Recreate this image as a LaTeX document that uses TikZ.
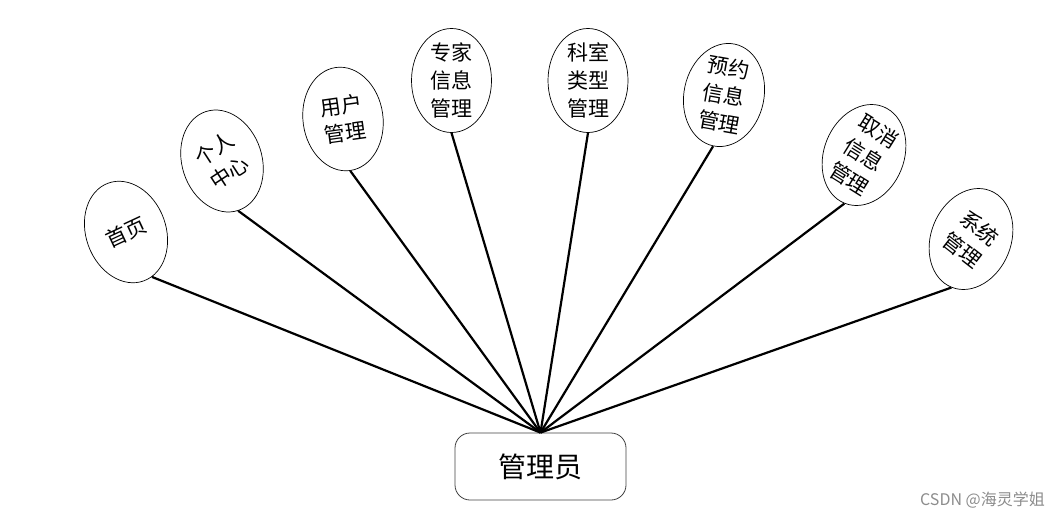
\documentclass[tikz,border=0pt]{standalone}
\usepackage{fontspec}
\setmainfont{Noto Sans CJK SC}
\newfontfamily\cjk{Noto Sans CJK SC}
\usetikzlibrary{shapes.geometric}
\tikzset{
  bub/.style={ellipse, draw=black, line width=0.7pt, minimum width=80pt, minimum height=104pt, inner sep=0pt},
  btxt/.style={align=center, inner sep=0pt, font=\cjk\fontsize{21}{28}\selectfont},
  link/.style={line width=2.2pt, black},
  adminbox/.style={draw=black!75, line width=0.8pt, rounded corners=15pt, minimum width=171pt, minimum height=67pt, inner sep=0pt, font=\cjk\fontsize{28}{30}\selectfont},
}
\begin{document}
\begin{tikzpicture}[x=1pt,y=-1pt]
\useasboundingbox (0,0) rectangle (1059,519);
\node[adminbox] (admin) at (540.5,466.5) {管理员};

\node[bub, rotate=20] (n1) at (126,232) {};
\node[btxt, rotate=25] at (n1) {首页};

\node[bub, rotate=18] (n2) at (222,161) {};
\node[btxt, rotate=33] at (n2) {个人\\中心};

\node[bub, rotate=8] (n3) at (343,119) {};
\node[btxt, rotate=8] at (n3) {用户\\管理};

\node[bub] (n4) at (451.5,80.5) {};
\node[btxt] at (n4) {专家\\信息\\管理};

\node[bub] (n5) at (588,80.5) {};
\node[btxt] at (n5) {科室\\类型\\管理};

\node[bub, rotate=-12] (n6) at (724,95) {};
\node[btxt, rotate=-10] at (n6) {预约\\信息\\管理};

\node[bub, rotate=-22] (n7) at (864,155) {};
\node[btxt, rotate=-32] at (n7) {取消\\信息\\管理};

\node[bub, rotate=-22] (n8) at (971,239) {};
\node[btxt, rotate=-38] at (n8) {系统\\管理};

\draw[link] (n1.-80) -- (admin.north);
\foreach \n in {n2,n3,n4,n5,n6,n7,n8}
  \draw[link] (\n.south) -- (admin.north);

\node[anchor=east, text=black!45, font=\cjk\fontsize{16}{18}\selectfont, inner sep=0pt] (wm) at (1045,500) {CSDN @海灵学姐};
\end{tikzpicture}
\end{document}
